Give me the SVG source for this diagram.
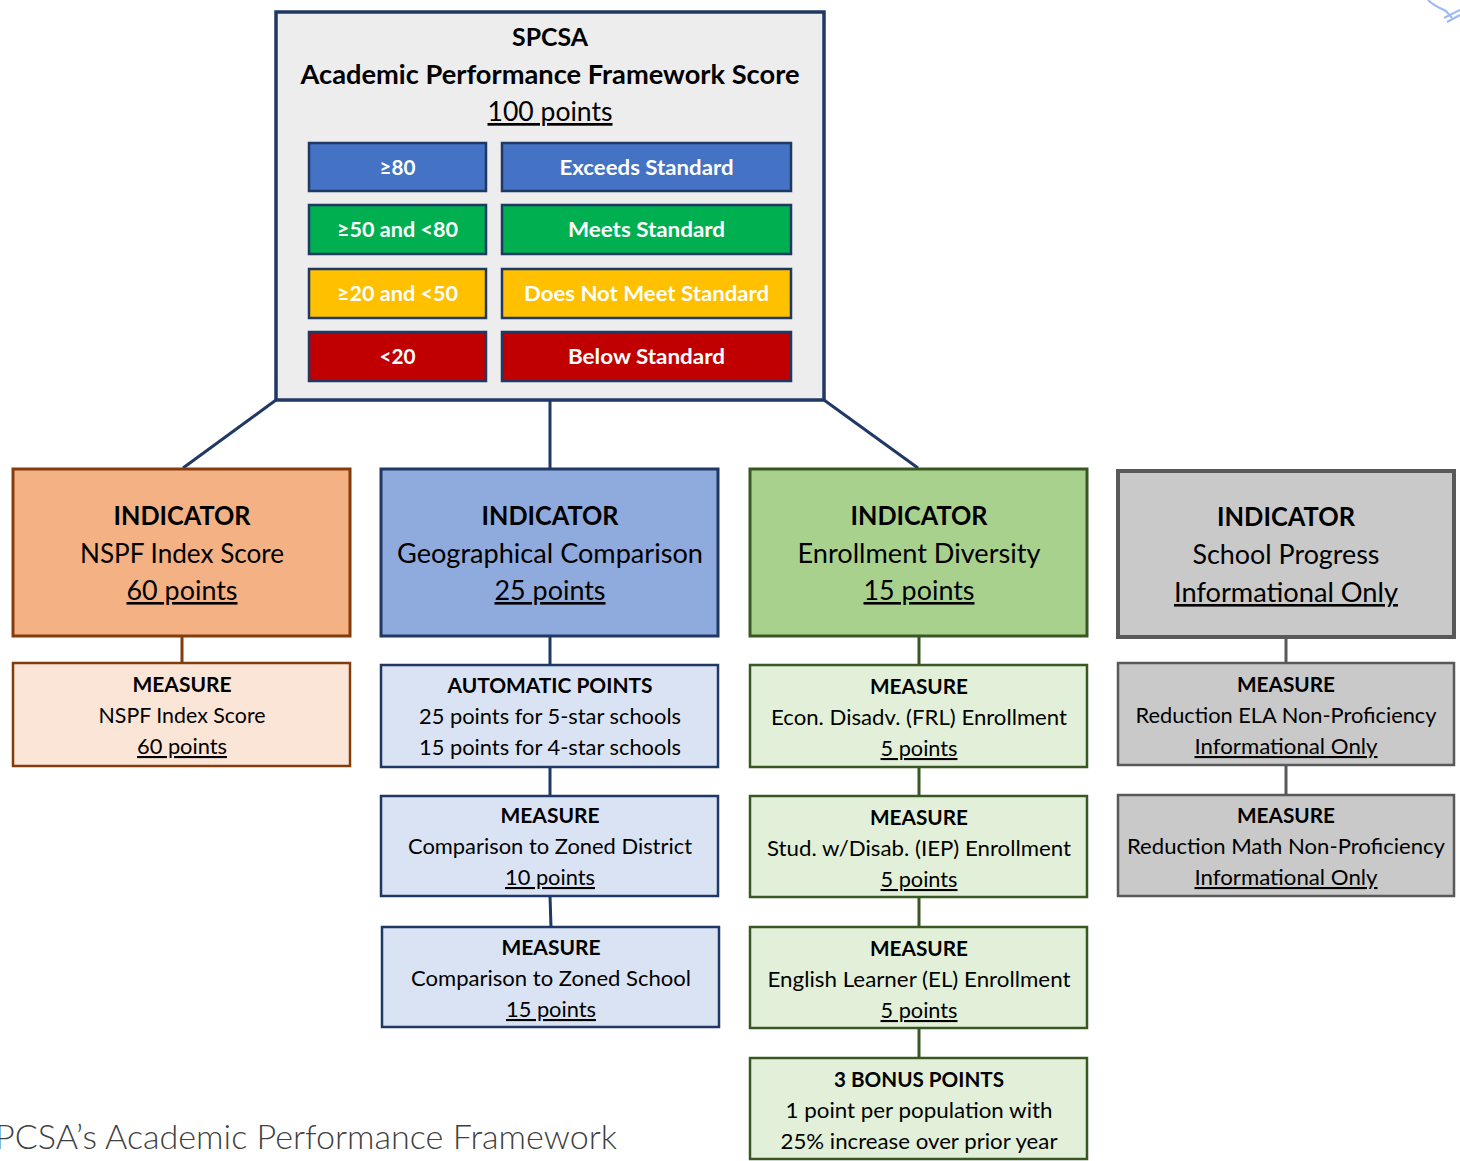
<svg xmlns="http://www.w3.org/2000/svg" width="1460" height="1161" viewBox="0 0 1460 1161">
<style>
text{font-family:Lato,"Open Sans","Liberation Sans",sans-serif;text-anchor:middle;fill:#000}
.b{font-weight:bold}
.u{text-decoration:underline}
.t1{font-size:25px}
.t2{font-size:26px}
.t3{font-size:21px}
.w{fill:#fff;font-weight:bold;font-size:21px}
.band{stroke:#1F3864;stroke-width:2.5}
.nv{stroke:#1F3864;fill:none;stroke-width:3}
.br{stroke:#843C0C;fill:none;stroke-width:3}
.gr{stroke:#385723;fill:none;stroke-width:3}
.gy{stroke:#595959;fill:none;stroke-width:3}
.cap{font-size:33px;fill:#404040;text-anchor:start;font-weight:300}
</style>
<rect width="1460" height="1161" fill="#fff"/>
<g id="deco" fill="none" stroke="#9DB9F0" stroke-width="2">
<path d="M1428,0 C1434,6 1440,8 1446,11 L1452,18"/>
<path d="M1444,18 L1460,10"/>
<path d="M1447,22 L1460,15"/>
</g>
<g id="connectors">
<line class="nv" x1="276" y1="400" x2="183" y2="468"/>
<line class="nv" x1="550" y1="400" x2="550" y2="469"/>
<line class="nv" x1="824" y1="400" x2="918" y2="468"/>
<line class="br" x1="182" y1="636" x2="182" y2="663"/>
<line class="nv" x1="550" y1="636" x2="550" y2="665"/>
<line class="nv" x1="550" y1="767" x2="550" y2="796"/>
<line class="nv" x1="550" y1="896" x2="551" y2="927"/>
<line class="gr" x1="919" y1="636" x2="919" y2="665"/>
<line class="gr" x1="919" y1="767" x2="919" y2="796"/>
<line class="gr" x1="919" y1="897" x2="919" y2="927"/>
<line class="gr" x1="919" y1="1028" x2="919" y2="1058"/>
<line class="gy" x1="1286" y1="637" x2="1286" y2="663"/>
<line class="gy" x1="1286" y1="765" x2="1286" y2="795"/>
</g>
<g id="apf">
<rect x="276" y="12" width="548" height="388" fill="#EDEDED" stroke="#1F3864" stroke-width="3.5"/>
<text x="550" y="46" class="b t1" textLength="76" lengthAdjust="spacingAndGlyphs">SPCSA</text>
<text x="550" y="84" class="b" style="font-size:26px" textLength="499" lengthAdjust="spacingAndGlyphs">Academic Performance Framework Score</text>
<text x="550" y="121" class="u" style="font-size:27px" textLength="125" lengthAdjust="spacingAndGlyphs">100 points</text>
</g>
<g id="exceeds">
<rect class="band" x="309" y="143" width="177" height="48" fill="#4472C4"/>
<rect class="band" x="502" y="143" width="289" height="48" fill="#4472C4"/>
<text x="397.5" y="175" class="w" textLength="36" lengthAdjust="spacingAndGlyphs">≥80</text>
<text x="646.5" y="175" class="w" textLength="174" lengthAdjust="spacingAndGlyphs">Exceeds Standard</text>
</g>
<g id="meets">
<rect class="band" x="309" y="205" width="177" height="49" fill="#00B050"/>
<rect class="band" x="502" y="205" width="289" height="49" fill="#00B050"/>
<text x="397.5" y="237" class="w" textLength="121" lengthAdjust="spacingAndGlyphs">≥50 and &lt;80</text>
<text x="646.5" y="237" class="w" textLength="157" lengthAdjust="spacingAndGlyphs">Meets Standard</text>
</g>
<g id="doesnotmeet">
<rect class="band" x="309" y="269" width="177" height="49" fill="#FFC000"/>
<rect class="band" x="502" y="269" width="289" height="49" fill="#FFC000"/>
<text x="397.5" y="301" class="w" textLength="121" lengthAdjust="spacingAndGlyphs">≥20 and &lt;50</text>
<text x="646.5" y="301" class="w" textLength="245" lengthAdjust="spacingAndGlyphs">Does Not Meet Standard</text>
</g>
<g id="below">
<rect class="band" x="309" y="332" width="177" height="49" fill="#C00000"/>
<rect class="band" x="502" y="332" width="289" height="49" fill="#C00000"/>
<text x="397.5" y="364" class="w" textLength="36" lengthAdjust="spacingAndGlyphs">&lt;20</text>
<text x="646.5" y="364" class="w" textLength="157" lengthAdjust="spacingAndGlyphs">Below Standard</text>
</g>
<g id="ind-nspf">
<rect x="13" y="469" width="337" height="167" fill="#F4B183" stroke="#843C0C" stroke-width="3"/>
<text x="182" y="525" class="b t2" textLength="137" lengthAdjust="spacingAndGlyphs">INDICATOR</text>
<text x="182" y="563" class="t2" textLength="204" lengthAdjust="spacingAndGlyphs">NSPF Index Score</text>
<text x="182" y="600" class="t2 u" textLength="111" lengthAdjust="spacingAndGlyphs">60 points</text>
</g>
<g id="ind-geo">
<rect x="381" y="469" width="337" height="167" fill="#8FAADC" stroke="#1F3864" stroke-width="3"/>
<text x="550" y="525" class="b t2" textLength="137" lengthAdjust="spacingAndGlyphs">INDICATOR</text>
<text x="550" y="563" class="t2" textLength="306" lengthAdjust="spacingAndGlyphs">Geographical Comparison</text>
<text x="550" y="600" class="t2 u" textLength="111" lengthAdjust="spacingAndGlyphs">25 points</text>
</g>
<g id="ind-div">
<rect x="750" y="469" width="337" height="167" fill="#A9D18E" stroke="#385723" stroke-width="3"/>
<text x="919" y="525" class="b t2" textLength="137" lengthAdjust="spacingAndGlyphs">INDICATOR</text>
<text x="919" y="563" class="t2" textLength="243" lengthAdjust="spacingAndGlyphs">Enrollment Diversity</text>
<text x="919" y="600" class="t2 u" textLength="111" lengthAdjust="spacingAndGlyphs">15 points</text>
</g>
<g id="ind-prog">
<rect x="1118" y="471" width="336" height="166" fill="#C9C9C9" stroke="#595959" stroke-width="4"/>
<text x="1286" y="526" class="b t2" textLength="138" lengthAdjust="spacingAndGlyphs">INDICATOR</text>
<text x="1286" y="564" class="t2" textLength="187" lengthAdjust="spacingAndGlyphs">School Progress</text>
<text x="1286" y="602" class="t2 u" textLength="224" lengthAdjust="spacingAndGlyphs">Informational Only</text>
</g>
<g id="m-nspf">
<rect x="13" y="663" width="337" height="103" fill="#FBE5D6" stroke="#843C0C" stroke-width="2.5"/>
<text x="182" y="692" class="b t3" textLength="99" lengthAdjust="spacingAndGlyphs">MEASURE</text>
<text x="182" y="723" class="t3" textLength="167" lengthAdjust="spacingAndGlyphs">NSPF Index Score</text>
<text x="182" y="754" class="t3 u" textLength="90" lengthAdjust="spacingAndGlyphs">60 points</text>
</g>
<g id="m-auto">
<rect x="381" y="665" width="337" height="102" fill="#DAE3F3" stroke="#1F3864" stroke-width="2.5"/>
<text x="550" y="693" class="b t3" textLength="205" lengthAdjust="spacingAndGlyphs">AUTOMATIC POINTS</text>
<text x="550" y="724" class="t3" textLength="262" lengthAdjust="spacingAndGlyphs">25 points for 5-star schools</text>
<text x="550" y="755" class="t3" textLength="262" lengthAdjust="spacingAndGlyphs">15 points for 4-star schools</text>
</g>
<g id="m-district">
<rect x="381" y="796" width="337" height="100" fill="#DAE3F3" stroke="#1F3864" stroke-width="2.5"/>
<text x="550" y="823" class="b t3" textLength="99" lengthAdjust="spacingAndGlyphs">MEASURE</text>
<text x="550" y="854" class="t3" textLength="284" lengthAdjust="spacingAndGlyphs">Comparison to Zoned District</text>
<text x="550" y="885" class="t3 u" textLength="90" lengthAdjust="spacingAndGlyphs">10 points</text>
</g>
<g id="m-school">
<rect x="382" y="927" width="337" height="100" fill="#DAE3F3" stroke="#1F3864" stroke-width="2.5"/>
<text x="551" y="955" class="b t3" textLength="99" lengthAdjust="spacingAndGlyphs">MEASURE</text>
<text x="551" y="986" class="t3" textLength="280" lengthAdjust="spacingAndGlyphs">Comparison to Zoned School</text>
<text x="551" y="1017" class="t3 u" textLength="90" lengthAdjust="spacingAndGlyphs">15 points</text>
</g>
<g id="m-frl">
<rect x="750" y="665" width="337" height="102" fill="#E2F0D9" stroke="#385723" stroke-width="2.5"/>
<text x="919" y="694" class="b t3" textLength="98" lengthAdjust="spacingAndGlyphs">MEASURE</text>
<text x="919" y="725" class="t3" textLength="296" lengthAdjust="spacingAndGlyphs">Econ. Disadv. (FRL) Enrollment</text>
<text x="919" y="756" class="t3 u" textLength="77" lengthAdjust="spacingAndGlyphs">5 points</text>
</g>
<g id="m-iep">
<rect x="750" y="796" width="337" height="101" fill="#E2F0D9" stroke="#385723" stroke-width="2.5"/>
<text x="919" y="825" class="b t3" textLength="98" lengthAdjust="spacingAndGlyphs">MEASURE</text>
<text x="919" y="856" class="t3" textLength="304" lengthAdjust="spacingAndGlyphs">Stud. w/Disab. (IEP) Enrollment</text>
<text x="919" y="887" class="t3 u" textLength="77" lengthAdjust="spacingAndGlyphs">5 points</text>
</g>
<g id="m-el">
<rect x="750" y="927" width="337" height="101" fill="#E2F0D9" stroke="#385723" stroke-width="2.5"/>
<text x="919" y="956" class="b t3" textLength="98" lengthAdjust="spacingAndGlyphs">MEASURE</text>
<text x="919" y="987" class="t3" textLength="303" lengthAdjust="spacingAndGlyphs">English Learner (EL) Enrollment</text>
<text x="919" y="1018" class="t3 u" textLength="77" lengthAdjust="spacingAndGlyphs">5 points</text>
</g>
<g id="m-bonus">
<rect x="750" y="1058" width="337" height="101" fill="#E2F0D9" stroke="#385723" stroke-width="2.5"/>
<text x="919" y="1087" class="b t3" textLength="170" lengthAdjust="spacingAndGlyphs">3 BONUS POINTS</text>
<text x="919" y="1118" class="t3" textLength="267" lengthAdjust="spacingAndGlyphs">1 point per population with</text>
<text x="919" y="1149" class="t3" textLength="277" lengthAdjust="spacingAndGlyphs">25% increase over prior year</text>
</g>
<g id="m-ela">
<rect x="1118" y="663" width="336" height="102" fill="#C9C9C9" stroke="#595959" stroke-width="2.5"/>
<text x="1286" y="692" class="b t3" textLength="98" lengthAdjust="spacingAndGlyphs">MEASURE</text>
<text x="1286" y="723" class="t3" textLength="301" lengthAdjust="spacingAndGlyphs">Reduction ELA Non-Proficiency</text>
<text x="1286" y="754" class="t3 u" textLength="183" lengthAdjust="spacingAndGlyphs">Informational Only</text>
</g>
<g id="m-math">
<rect x="1118" y="795" width="336" height="101" fill="#C9C9C9" stroke="#595959" stroke-width="2.5"/>
<text x="1286" y="823" class="b t3" textLength="98" lengthAdjust="spacingAndGlyphs">MEASURE</text>
<text x="1286" y="854" class="t3" textLength="318" lengthAdjust="spacingAndGlyphs">Reduction Math Non-Proficiency</text>
<text x="1286" y="885" class="t3 u" textLength="183" lengthAdjust="spacingAndGlyphs">Informational Only</text>
</g>
<text x="-5" y="1149" class="cap" textLength="622" lengthAdjust="spacingAndGlyphs">PCSA’s Academic Performance Framework</text>
</svg>
